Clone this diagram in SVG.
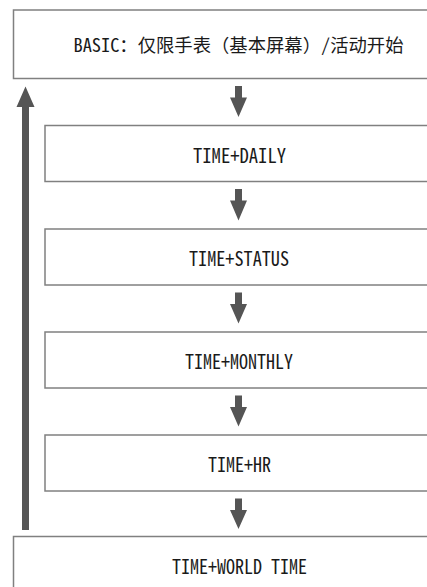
<svg xmlns="http://www.w3.org/2000/svg" width="427" height="587" viewBox="0 0 427 587">
<style>
.box{fill:#ffffff;stroke:#808080;stroke-width:1.5}
.lbl{font-family:"Noto Sans Mono CJK SC","Noto Sans CJK SC",sans-serif;font-size:18px;fill:#1a1a1a;text-anchor:middle}
.lat{font-size:19.5px}
.arr{fill:#555555}
</style>
<rect x="0" y="0" width="427" height="587" fill="#ffffff"/>
<g id="connectors">
<path class="arr" d="M235,86 H242 V97.5 H247 L238.5,117 L230,97.5 H235 Z"/>
<path class="arr" d="M235,189 H242 V200.5 H247 L238.5,220.5 L230,200.5 H235 Z"/>
<path class="arr" d="M235,292.5 H242 V304 H247 L238.5,323.5 L230,304 H235 Z"/>
<path class="arr" d="M235,395.5 H242 V407 H247 L238.5,426.5 L230,407 H235 Z"/>
<path class="arr" d="M235,498.5 H242 V510 H247 L238.5,529 L230,510 H235 Z"/>
<path class="arr" d="M22,530 V107 H16.5 L25.5,86.5 L34.5,107 H29 V530 Z"/>
</g>
<g id="basic">
<rect class="box" x="13.5" y="10" width="430" height="68.5"/>
<text class="lbl" x="238.5" y="51.5" textLength="330" lengthAdjust="spacingAndGlyphs">BASIC：仅限手表（基本屏幕）/活动开始</text>
</g>
<g id="daily">
<rect class="box" x="45" y="125.5" width="400" height="56"/>
<text class="lbl lat" x="239.5" y="162.5" textLength="93" lengthAdjust="spacingAndGlyphs">TIME+DAILY</text>
</g>
<g id="status">
<rect class="box" x="45" y="229" width="400" height="56"/>
<text class="lbl lat" x="239" y="265.5" textLength="100" lengthAdjust="spacingAndGlyphs">TIME+STATUS</text>
</g>
<g id="monthly">
<rect class="box" x="45" y="332" width="400" height="56"/>
<text class="lbl lat" x="239" y="368.5" textLength="108" lengthAdjust="spacingAndGlyphs">TIME+MONTHLY</text>
</g>
<g id="hr">
<rect class="box" x="45" y="435" width="400" height="56"/>
<text class="lbl lat" x="239.5" y="471.5" textLength="63" lengthAdjust="spacingAndGlyphs">TIME+HR</text>
</g>
<g id="worldtime">
<rect class="box" x="13.5" y="536.5" width="430" height="70"/>
<text class="lbl lat" x="239.5" y="574" textLength="135" lengthAdjust="spacingAndGlyphs">TIME+WORLD TIME</text>
</g>
</svg>
